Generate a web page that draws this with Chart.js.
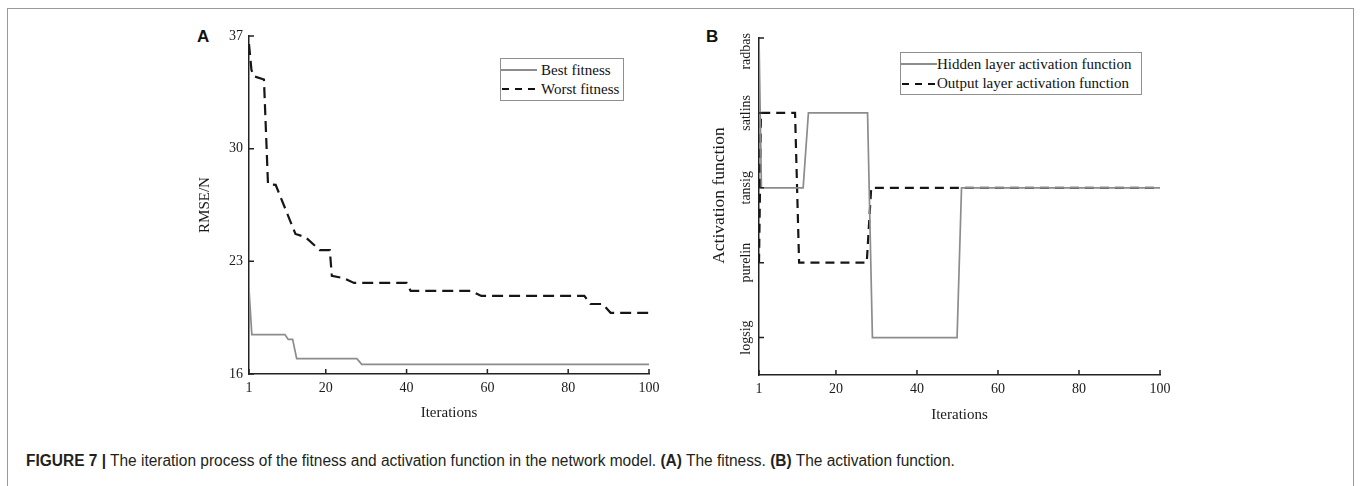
<!DOCTYPE html>
<html>
<head>
<meta charset="utf-8">
<script src="https://cdn.jsdelivr.net/npm/chart.js@4.4.0/dist/chart.umd.min.js"></script>
<style>
  body { margin: 0; background: #fff; width: 1360px; height: 486px; position: relative; overflow: hidden; }
  #frame { position: absolute; left: 7px; top: 8px; width: 1345px; height: 520px; border: 1px solid #9a9a9a; }
  canvas { position: absolute; }
  #c1 { left: 180px; top: 20px; }
  #c2 { left: 690px; top: 20px; }
  .panel { position: absolute; font: bold 17px "Liberation Sans", Arial, sans-serif; color: #111; }
  .legend { position: absolute; border: 1px solid #8f8f8f; background: #fff; }
  .lg-text { position: absolute; font: 15px "Liberation Serif", serif; color: #111; line-height: 18px; white-space: nowrap; }
  .sw { position: absolute; height: 2px; }
  .sw.solid { background: #8c8c8c; }
  .sw.dash { background: repeating-linear-gradient(to right, #111 0 7px, transparent 7px 13px); }
  #caption { position: absolute; left: 26px; top: 452px; font: 16px "Liberation Sans", Arial, sans-serif; color: #231f20; white-space: nowrap; transform-origin: left center; }
</style>
</head>
<body>
<div id="frame"></div>
<div class="panel" style="left:197px;top:27px">A</div>
<div class="panel" style="left:706px;top:27px">B</div>
<canvas id="c1" width="490" height="410"></canvas>
<canvas id="c2" width="490" height="410"></canvas>

<div class="legend" style="left:500px;top:58px;width:122px;height:41px"></div>
<div class="sw solid" style="left:501px;top:69px;width:36px"></div>
<div class="lg-text" style="left:541px;top:61px">Best fitness</div>
<div class="sw dash" style="left:502px;top:88px;width:36px"></div>
<div class="lg-text" style="left:541px;top:80px">Worst fitness</div>

<div class="legend" style="left:900px;top:52px;width:240px;height:41px"></div>
<div class="sw solid" style="left:901px;top:63px;width:36px"></div>
<div class="lg-text" style="left:937px;top:55px">Hidden layer activation function</div>
<div class="sw dash" style="left:902px;top:83px;width:36px"></div>
<div class="lg-text" style="left:937px;top:74px">Output layer activation function</div>

<div id="caption"><b>FIGURE 7 |</b> The iteration process of the fitness and activation function in the network model. <b>(A)</b> The fitness. <b>(B)</b> The activation function.</div>

<script>
const iterTicks = [1, 20, 40, 60, 80, 100];
const rmseTicks = [16, 23, 30, 37];

// panel A
const bestIter = [1, 1.7, 9.9, 10.7, 11.8, 12.8, 27.7, 28.9, 100];
const bestRmse = [21.3, 18.45, 18.45, 18.15, 18.15, 16.95, 16.95, 16.6, 16.6];
const worstIter = [1, 1.6, 2.2, 4.7, 5.7, 7.6, 12.5, 15, 18.5, 21, 21.5, 24.5, 27, 40, 41, 56, 58.5, 84, 85.5, 88.5, 90.5, 100];
const worstRmse = [36.5, 34.9, 34.5, 34.3, 27.8, 27.75, 24.7, 24.5, 23.7, 23.7, 22.1, 21.95, 21.66, 21.66, 21.16, 21.16, 20.85, 20.85, 20.35, 20.35, 19.8, 19.8];

// panel B
const actFunctions = ['logsig', 'purelin', 'tansig', 'satlins', 'radbas'];
const hiddenIter = [1, 1.6, 11.9, 13.2, 27.8, 29, 49.9, 51, 100];
const hiddenAct = ['radbas', 'tansig', 'tansig', 'satlins', 'satlins', 'logsig', 'logsig', 'tansig', 'tansig'];
const outputIter = [1, 1.5, 9.9, 10.9, 27.6, 28.7, 100];
const outputAct = ['purelin', 'satlins', 'satlins', 'purelin', 'purelin', 'tansig', 'tansig'];

Chart.defaults.font.family = '"Liberation Serif", "Times New Roman", serif';
Chart.defaults.color = '#1a1a1a';

function points(xs, ys) {
    return xs.map(function(x, i) { return { x: x, y: ys[i] }; });
}

// little ticks pointing into the plot, like the original figure
const innerTicks = {
    id: 'innerTicks',
    afterDraw(chart) {
        const { ctx, chartArea, scales } = chart;
        ctx.save();
        ctx.strokeStyle = '#222';
        ctx.lineWidth = 1.5;
        ctx.beginPath();
        scales.x.ticks.forEach(function(t) {
            const px = scales.x.getPixelForValue(t.value);
            ctx.moveTo(px, chartArea.bottom);
            ctx.lineTo(px, chartArea.bottom - 5);
        });
        scales.y.ticks.forEach(function(t) {
            const py = scales.y.getPixelForValue(t.value);
            ctx.moveTo(chartArea.left, py);
            ctx.lineTo(chartArea.left + 5, py);
        });
        ctx.stroke();
        ctx.restore();
    }
};

// vertical category labels on the left axis of panel B
const rotatedLabels = {
    id: 'rotatedLabels',
    afterDraw(chart) {
        const { ctx, chartArea, scales } = chart;
        ctx.save();
        ctx.font = '14px "Liberation Serif", serif';
        ctx.fillStyle = '#1a1a1a';
        ctx.textAlign = 'center';
        ctx.textBaseline = 'middle';
        scales.y.ticks.forEach(function(t) {
            const name = actFunctions[t.value - 1];
            const half = ctx.measureText(name).width / 2;
            // the top label is pushed down so it stays next to the axis
            const py = Math.max(scales.y.getPixelForValue(t.value), chartArea.top - 5 + half);
            ctx.save();
            ctx.translate(chartArea.left - 13, py);
            ctx.rotate(-Math.PI / 2);
            ctx.fillText(name, 0, 0);
            ctx.restore();
        });
        ctx.restore();
    }
};

function xScale(titlePad) {
    return {
        type: 'linear',
        min: 1,
        max: 100,
        afterBuildTicks: function(s) { s.ticks = iterTicks.map(function(v) { return { value: v }; }); },
        afterFit: function(s) { s.height = titlePad.h; },
        grid: { display: false, drawTicks: false },
        border: { display: true, color: '#222', width: 1.5 },
        ticks: { padding: 6, font: { size: 14 }, maxRotation: 0 },
        title: { display: true, text: 'Iterations', font: { size: 15 }, padding: { top: 0, bottom: titlePad.b } }
    };
}

new Chart(document.getElementById('c1'), {
    type: 'line',
    data: {
        datasets: [
            {
                label: 'Best fitness',
                data: points(bestIter, bestRmse),
                borderColor: '#8c8c8c',
                borderWidth: 1.7,
                pointRadius: 0,
                tension: 0
            },
            {
                label: 'Worst fitness',
                data: points(worstIter, worstRmse),
                borderColor: '#161616',
                borderWidth: 2.2,
                borderDash: [11, 6],
                pointRadius: 0,
                tension: 0
            }
        ]
    },
    options: {
        responsive: false,
        animation: false,
        layout: { padding: { left: 0, right: 21, top: 16, bottom: 0 } },
        plugins: { legend: { display: false }, tooltip: { enabled: false } },
        scales: {
            x: xScale({ h: 56, b: 8 }),
            y: {
                type: 'linear',
                min: 16,
                max: 37,
                afterBuildTicks: function(s) { s.ticks = rmseTicks.map(function(v) { return { value: v }; }); },
                afterFit: function(s) { s.width = 69; },
                grid: { display: false, drawTicks: false },
                border: { display: true, color: '#222', width: 1.5 },
                ticks: { padding: 6, font: { size: 14 } },
                title: { display: true, text: 'RMSE/N', font: { size: 15 }, padding: { top: 16, bottom: 0 } }
            }
        }
    },
    plugins: [innerTicks]
});

new Chart(document.getElementById('c2'), {
    type: 'line',
    data: {
        datasets: [
            {
                label: 'Hidden layer activation function',
                data: points(hiddenIter, hiddenAct.map(function(a) { return actFunctions.indexOf(a) + 1; })),
                borderColor: '#8c8c8c',
                borderWidth: 1.7,
                pointRadius: 0,
                tension: 0
            },
            {
                label: 'Output layer activation function',
                data: points(outputIter, outputAct.map(function(a) { return actFunctions.indexOf(a) + 1; })),
                borderColor: '#161616',
                borderWidth: 2.2,
                borderDash: [9, 6],
                pointRadius: 0,
                tension: 0
            }
        ]
    },
    options: {
        responsive: false,
        animation: false,
        layout: { padding: { left: 0, right: 20, top: 18, bottom: 0 } },
        plugins: { legend: { display: false }, tooltip: { enabled: false } },
        scales: {
            x: xScale({ h: 55, b: 6 }),
            y: {
                type: 'linear',
                min: 0.5,
                max: 5,
                afterBuildTicks: function(s) { s.ticks = actFunctions.map(function(a, i) { return { value: i + 1 }; }); },
                afterFit: function(s) { s.width = 69; },
                grid: { display: false, drawTicks: false },
                border: { display: true, color: '#222', width: 1.5 },
                ticks: { display: false },
                // leading spaces move the title a little above the middle of the axis, as in the figure
                title: { display: true, text: '     Activation function', font: { size: 17.5 }, padding: { top: 19, bottom: 0 } }
            }
        }
    },
    plugins: [innerTicks, rotatedLabels]
});

// squeeze the caption to the width it has in the figure
const cap = document.getElementById('caption');
cap.style.transform = 'scaleX(' + (929 / cap.offsetWidth).toFixed(3) + ')';
</script>
</body>
</html>
